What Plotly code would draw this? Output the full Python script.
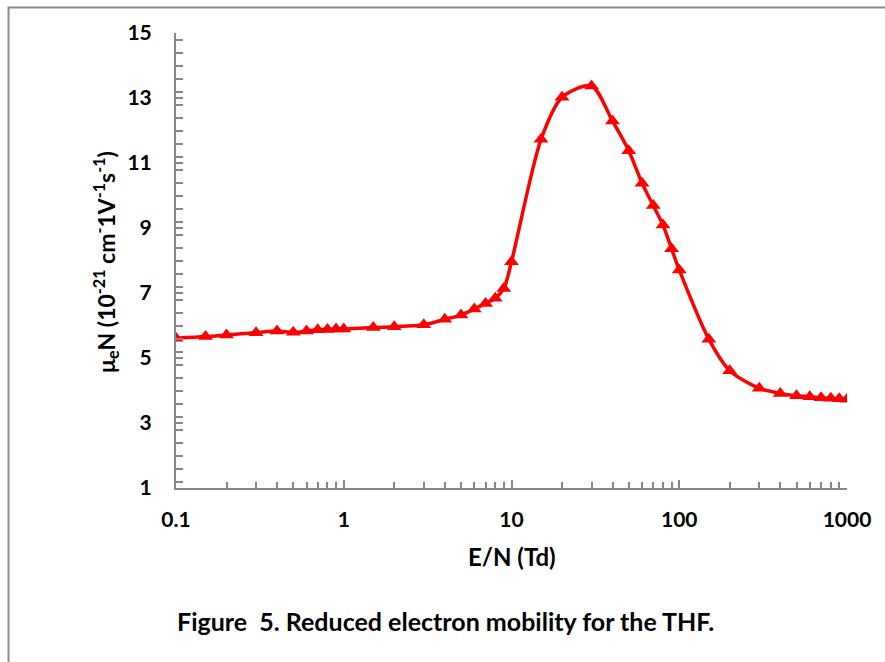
import plotly.graph_objects as go

# Data
e_over_n = [0.1, 0.15, 0.2, 0.3, 0.4, 0.5, 0.6, 0.7, 0.8, 0.9, 1, 1.5, 2, 3, 4, 5, 6, 7, 8, 9,
            10, 15, 20, 30, 40, 50, 60, 70, 80, 90, 100, 150, 200, 300, 400, 500, 600, 700,
            800, 900, 1000]
mobility = [5.61, 5.66, 5.71, 5.78, 5.83, 5.79, 5.83, 5.87, 5.88, 5.89, 5.89, 5.94, 5.96, 6.02,
            6.19, 6.32, 6.51, 6.68, 6.84, 7.14, 7.96, 11.73, 13.02, 13.37, 12.29, 11.38, 10.38,
            9.69, 9.09, 8.36, 7.71, 5.58, 4.61, 4.07, 3.91, 3.84, 3.81, 3.78, 3.76, 3.75, 3.73]

x_ticks = [0.1, 1, 10, 100, 1000]
x_tick_text = ["0.1", "1", "10", "100", "1000"]
y_ticks = [1, 3, 5, 7, 9, 11, 13, 15]

FONT = "Lato"
AXIS_COLOR = "#878787"

fig = go.Figure()
fig.add_trace(go.Scatter(
    x=e_over_n, y=mobility, mode="lines+markers",
    line=dict(color="#FF0000", width=3.5, shape="spline", smoothing=0.8),
    marker=dict(symbol="triangle-up", size=13, color="#FF0000"),
    showlegend=False,
))

W, H = 885, 662
L, R, T, B = 176, 38, 33, 174
pw, ph = W - L - R, H - T - B

def px(xp):
    return (xp - L) / pw

def py(yp):
    return (H - B - yp) / ph

fig.update_layout(
    width=W, height=H,
    margin=dict(l=L, r=R, t=T, b=B),
    paper_bgcolor="white", plot_bgcolor="white",
    font=dict(family=FONT, color="black"),
    xaxis=dict(
        type="log", range=[-1, 3],
        tickvals=x_ticks, ticktext=x_tick_text,
        showgrid=False, zeroline=False,
        showline=True, linecolor=AXIS_COLOR, linewidth=2,
        ticks="inside", ticklen=8, tickwidth=1.5, tickcolor=AXIS_COLOR,
        minor=dict(ticks="inside", ticklen=6, tickwidth=1.5, tickcolor=AXIS_COLOR,
                   tickvals=[m * d for d in [0.1, 1, 10, 100] for m in range(2, 10)]),
        tickfont=dict(family=FONT, size=21, color="black", weight="bold"),
        ticklabelstandoff=12,
    ),
    yaxis=dict(
        range=[1, 15], tickvals=y_ticks,
        showgrid=False, zeroline=False,
        showline=True, linecolor=AXIS_COLOR, linewidth=2,
        ticks="inside", ticklen=7, tickwidth=1.5, tickcolor=AXIS_COLOR,
        minor=dict(ticks="inside", ticklen=7, tickwidth=1.5, tickcolor=AXIS_COLOR, dtick=0.4),
        tickfont=dict(family=FONT, size=21, color="black", weight="bold"),
        ticklabelstandoff=18,
    ),
    annotations=[
        dict(text="<b>E/N (Td)</b>", xref="paper", yref="paper", x=px(512), y=py(556),
             xanchor="center", yanchor="middle", showarrow=False,
             font=dict(family=FONT, size=24, color="black")),
        dict(text="<b>μ<sub>e</sub>N (10<sup>-21</sup> cm<sup>-</sup>1V<sup>-1</sup>s<sup>-1</sup>)</b>",
             xref="paper", yref="paper", x=px(105), y=py(262), textangle=-90,
             xanchor="center", yanchor="middle", showarrow=False,
             font=dict(family=FONT, size=23, color="black")),
        dict(text="<b>Figure  5. Reduced electron mobility for the THF.</b>",
             xref="paper", yref="paper", x=px(445), y=py(621),
             xanchor="center", yanchor="middle", showarrow=False,
             font=dict(family=FONT, size=25, color="black")),
    ],
    shapes=[
        dict(type="path", xref="paper", yref="paper",
             path=f"M {px(8.5)},{py(H + 5)} L {px(8.5)},{py(7.5)} L {px(W + 5)},{py(7.5)}",
             line=dict(color="#8C8C8C", width=2)),
    ],
)

fig.write_html("out.html")
